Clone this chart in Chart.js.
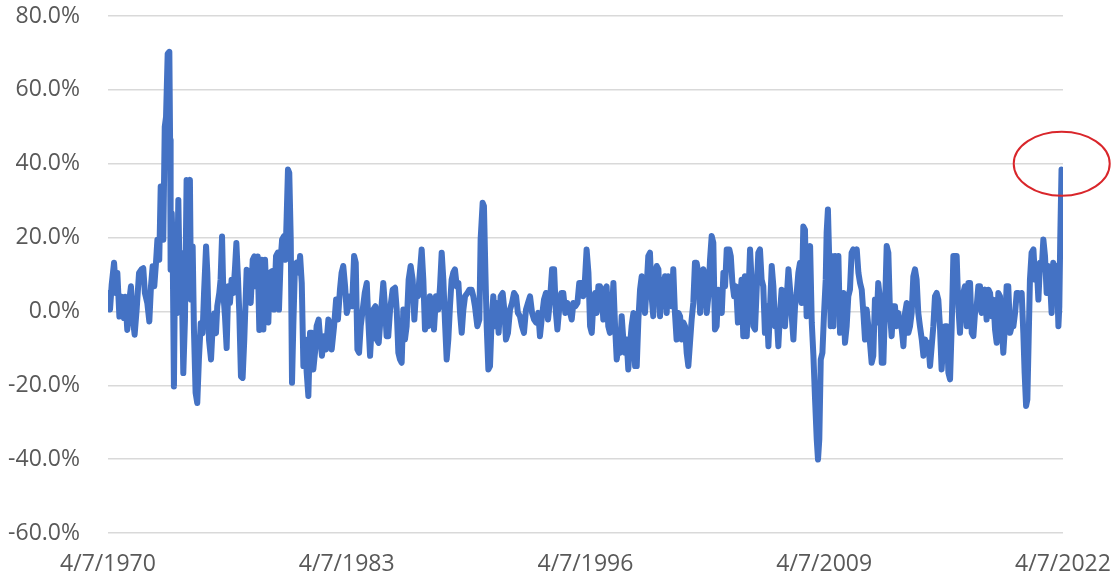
<!DOCTYPE html>
<html>
<head>
<meta charset="utf-8">
<script src="https://cdn.jsdelivr.net/npm/chart.js@4.4.1/dist/chart.umd.min.js"></script>
<style>
  html, body { margin: 0; padding: 0; background: #fff; }
  #wrap { width: 1114px; height: 579px; }
</style>
</head>
<body>
<div id="wrap"><canvas id="myChart" width="1114" height="579"></canvas></div>
<script>
// year-over-year change, [decimal year, % change]
const y1970_78 = [
  [1970.27,5.0],[1970.38,0.5],[1970.47,7.2],[1970.60,13.2],[1970.71,5.0],[1970.78,10.4],[1970.89,-1.4],
  [1971.01,4],[1971.14,-1.8],[1971.21,4],[1971.32,-5],[1971.43,3],[1971.52,6.8],[1971.61,-1.4],[1971.72,-6.3],[1971.83,0.5],[1971.96,10.4],
  [1972.10,11.4],[1972.19,11.7],[1972.28,5],[1972.41,2.3],[1972.52,-2.7],[1972.61,6.8],[1972.70,12.2],[1972.79,6.8],[1972.88,13],[1972.96,19.4],
  [1973.06,14],[1973.14,33.8],[1973.23,32],[1973.28,19.4],[1973.36,50],[1973.43,52.7],[1973.52,69.8],[1973.61,70.3],[1973.65,46.4],[1973.68,11.3],[1973.74,26.6],[1973.79,17.6],[1973.86,-20.3],[1973.94,23],
  [1974.01,-0.5],[1974.10,30.2],[1974.19,3.2],[1974.26,15.8],[1974.37,-16.7],[1974.46,-2.3],[1974.55,35.6],[1974.64,34.7],[1974.73,35.6],[1974.79,3.2],[1974.88,17.6],[1974.95,-5],
  [1975.04,-22],[1975.13,-24.8],[1975.22,-13],[1975.32,-3.2],[1975.42,-5.9],[1975.50,5],[1975.61,17.6],[1975.68,10.4],[1975.77,-7.7],[1975.88,-13],[1975.97,-4],
  [1976.06,-0.5],[1976.15,-5.9],[1976.22,1.4],[1976.33,5],[1976.40,8.6],[1976.48,20.3],[1976.55,5],[1976.64,-1.4],[1976.73,-9.9],[1976.82,6.8],[1976.91,2.3],
  [1977.00,8.6],[1977.09,5],[1977.18,11.3],[1977.26,18.5],[1977.35,8.6],[1977.42,-0.5],[1977.51,-17.6],[1977.60,-18],[1977.69,-7.7],[1977.82,11.3],[1977.91,10.4],
  [1978.04,2.3],[1978.15,14],[1978.24,14.9],[1978.33,6.8],[1978.42,14.9],[1978.51,-5]
];
const y1978_87 = [
  [1978.64,14],[1978.73,-4.9],[1978.82,14],[1978.91,3.2],[1979.00,-3],[1979.09,10.5],[1979.20,10.9],[1979.31,0.5],[1979.42,15],[1979.51,15.9],[1979.58,0.5],[1979.67,14],[1979.75,19.5],[1979.85,20.4],[1979.93,14],
  [1980.00,25.8],[1980.07,38.4],[1980.14,37.5],[1980.22,19.5],[1980.29,-19.3],[1980.36,-4],[1980.45,12.3],[1980.54,13.2],[1980.65,10.5],[1980.73,15],[1980.82,7.7],[1980.91,-14.8],
  [1981.00,-7.6],[1981.09,-16.6],[1981.18,-22.9],[1981.27,-5.8],[1981.36,-5.8],[1981.45,-15.7],[1981.54,-11.2],[1981.63,-4],[1981.74,-2.2],[1981.81,-6.7],[1981.92,-12],
  [1982.03,-6.7],[1982.14,-10.3],[1982.27,-2.2],[1982.36,-4],[1982.45,-10.3],[1982.58,-4],[1982.69,3.2],[1982.79,-2.2],[1982.90,5.9],[1982.99,10.5],
  [1983.08,12.3],[1983.18,6.8],[1983.27,-0.4],[1983.36,1.4],[1983.45,4.1],[1983.56,1.4],[1983.67,15],[1983.76,13.2],[1983.85,-10.3],[1983.94,-11.2],
  [1984.03,-4],[1984.14,0.5],[1984.25,5],[1984.36,7.7],[1984.45,-3],[1984.54,-12],[1984.63,-4],[1984.72,0.5],[1984.83,1.4],[1984.90,-7.6],
  [1985.01,-8.5],[1985.12,-1.3],[1985.26,7.7],[1985.35,1.4],[1985.44,-6.7],[1985.53,-6.7],[1985.63,0.5],[1985.77,5.9],[1985.90,6.4],[1985.99,0.5],
  [1986.08,-11.2],[1986.17,-13],[1986.26,-13.9],[1986.35,0.5],[1986.44,-7.6],[1986.53,-4],[1986.64,8.6],[1986.75,12.3],[1986.86,8.6],[1986.95,-2.2],
  [1987.04,5],[1987.15,4.1]
];
const y1987_96 = [
  [1987.35,16.8],[1987.44,8.6],[1987.53,-4.9],[1987.62,3.2],[1987.71,-4],[1987.80,4.1],[1987.91,2.3],
  [1988.02,-4.9],[1988.13,4.1],[1988.26,0.5],[1988.35,6.8],[1988.44,15.9],[1988.53,8.6],[1988.62,-3],[1988.71,-13],[1988.80,-7.6],[1988.89,1.4],[1988.98,8.6],
  [1989.07,10.5],[1989.16,11.4],[1989.26,6.8],[1989.35,7.7],[1989.44,-0.4],[1989.53,-5.8],[1989.62,0.5],[1989.71,4.1],[1989.84,5],[1989.95,5.9],
  [1990.07,5.9],[1990.16,4.1],[1990.25,1.4],[1990.38,-4],[1990.49,-2.2],[1990.56,19.5],[1990.67,29.4],[1990.74,28.5],[1990.82,10.5],[1990.89,-4],[1990.98,-15.7],
  [1991.07,-14.8],[1991.16,-2.2],[1991.25,4.1],[1991.34,-4],[1991.43,2.3],[1991.54,-5.8],[1991.65,4.1],[1991.76,5],[1991.85,0.5],[1991.94,-7.6],
  [1992.05,-5.8],[1992.16,0.5],[1992.27,2.3],[1992.38,5],[1992.49,4.1],[1992.59,-0.4],[1992.70,-1.3],[1992.81,-4],[1992.92,-5.8],
  [1993.03,0.5],[1993.14,2.3],[1993.25,4.1],[1993.36,-0.4],[1993.47,-2.2],[1993.58,-3],[1993.70,-0.4],[1993.79,-6.7],[1993.90,-1.3],
  [1994.01,3.2],[1994.12,5],[1994.23,-2.2],[1994.34,3.2],[1994.45,11.4],[1994.56,11.4],[1994.66,-0.4],[1994.74,-4.9],[1994.85,1.4],[1994.95,5],
  [1995.06,5],[1995.17,-0.4],[1995.28,2.3],[1995.39,0.5],[1995.52,-2.2],[1995.61,2.3],[1995.72,1.4],[1995.83,2.3],[1995.93,7.7]
];
const y1996_04 = [
  [1996.06,7.7],[1996.15,4.1],[1996.24,8.6],[1996.33,16.8],[1996.43,10.5],[1996.52,-4],[1996.61,-5.8],[1996.70,2.3],[1996.79,5],[1996.88,-0.4],[1996.97,6.8],
  [1997.06,6.8],[1997.15,5],[1997.24,-2.2],[1997.33,5.9],[1997.42,6.8],[1997.51,-4],[1997.60,-5.8],[1997.70,-0.4],[1997.79,7.7],[1997.88,-4],[1997.97,-13],
  [1998.06,-9.4],[1998.15,-11.2],[1998.24,-1.3],[1998.33,-7.6],[1998.42,-11.2],[1998.51,-7.6],[1998.60,-15.7],[1998.69,-9.4],[1998.78,-4],[1998.88,-0.4],[1998.97,-14.8],
  [1999.06,-14.8],[1999.15,-2.2],[1999.24,5.9],[1999.33,9.5],[1999.42,4.1],[1999.51,-0.4],[1999.60,6.8],[1999.69,15],[1999.78,15.9],[1999.87,4.1],[1999.96,-1.3],
  [2000.06,10.5],[2000.15,12.3],[2000.24,11.4],[2000.33,-1.3],[2000.42,8.6],[2000.51,1.4],[2000.60,9.5],[2000.69,-0.4],[2000.78,9.5],[2000.87,6.8],[2000.96,1.4],
  [2001.05,11.4],[2001.14,-0.4],[2001.23,-7.6],[2001.33,-0.4],[2001.42,-1.3],[2001.51,-7.6],[2001.60,-3],[2001.69,-4],[2001.78,-11.2],[2001.87,-14.8],[2001.96,-8.5],
  [2002.05,-2.2],[2002.14,2.3],[2002.23,13.2],[2002.32,13.2],[2002.41,10.5],[2002.51,-0.4],[2002.60,6.8],[2002.69,11.4],[2002.78,9.5],[2002.87,-0.4],[2002.96,4.1],
  [2003.05,14],[2003.14,20.4],[2003.23,18.6],[2003.32,-4.9],[2003.41,-4],[2003.50,5.9],[2003.59,5],[2003.69,-0.4],[2003.78,10.5],[2003.87,6.8],[2003.96,16.8],
  [2004.10,16.8],[2004.18,15],[2004.27,7.7],[2004.36,4.1],[2004.47,6.8],[2004.57,-3]
];
const y2004_13 = [
  [2004.77,8.6],[2004.86,-6.7],[2004.95,9.5],
  [2005.05,-6.7],[2005.14,4.1],[2005.23,16.8],[2005.32,7.7],[2005.41,-4],[2005.50,-4.9],[2005.59,5.9],[2005.68,15.9],[2005.77,16.8],[2005.86,8.6],[2005.95,6.8],
  [2006.04,-5.8],[2006.14,1.4],[2006.23,-9.4],[2006.32,1.4],[2006.41,12.3],[2006.50,6.8],[2006.59,-4],[2006.68,-1.3],[2006.77,-9.4],[2006.86,-0.4],[2006.95,5.9],
  [2007.04,5],[2007.13,-4],[2007.22,3.2],[2007.32,11.4],[2007.41,5.9],[2007.50,-1.3],[2007.59,-7.6],[2007.68,1.4],[2007.77,5],[2007.86,10.5],[2007.95,13.2],
  [2008.04,2.3],[2008.13,23],[2008.22,22.1],[2008.31,-1.3],[2008.40,15.9],[2008.50,17.7],[2008.59,-3],[2008.68,-12],[2008.77,-23.8],[2008.86,-34.6],[2008.93,-40.1],
  [2009.00,-34.6],[2009.08,-13],[2009.17,-11.2],[2009.26,-0.4],[2009.35,8.6],[2009.40,21.3],[2009.47,27.6],[2009.55,12.3],[2009.62,-4],[2009.69,15],[2009.77,-4],[2009.86,15],[2009.95,5],
  [2010.04,15],[2010.13,-5.8],[2010.22,-2.2],[2010.31,5],[2010.40,-8.5],[2010.49,-4],[2010.58,4.1],[2010.67,5.9],[2010.76,15.9],[2010.85,16.8],[2010.94,15.9],
  [2011.04,16.8],[2011.13,10.5],[2011.22,7.7],[2011.31,5.9],[2011.40,-0.4],[2011.49,-7.6],[2011.58,0.5],[2011.67,-4],[2011.76,-8.5],[2011.85,-13.9],[2011.94,-12],
  [2012.03,3.2],[2012.12,-3],[2012.21,7.7],[2012.31,3.2],[2012.40,-13.9],[2012.49,-13.9],[2012.58,1.4],[2012.67,17.7],[2012.76,15.9],[2012.85,-0.4],[2012.94,-6.7],
  [2013.03,1.4],[2013.12,1.4],[2013.21,-4],[2013.30,-0.4]
];
const y2013_22 = [
  [2013.49,-4.9],[2013.58,-9.4],[2013.67,-0.4],[2013.76,2.3],[2013.85,-5.8],[2013.94,-4],
  [2014.03,-0.4],[2014.12,9.5],[2014.21,11.4],[2014.30,8.6],[2014.39,-0.4],[2014.48,-4],[2014.58,-7.6],[2014.67,-12],[2014.76,-7.6],[2014.85,-11.2],[2014.94,-8.5],
  [2015.03,-14.8],[2015.12,-9.4],[2015.21,-4],[2015.30,4.1],[2015.39,5],[2015.48,3.2],[2015.57,-4],[2015.66,-15.7],[2015.75,-8.5],[2015.85,-4],[2015.94,-4],
  [2016.03,-16.6],[2016.12,-18.4],[2016.21,-4],[2016.30,15],[2016.39,15],[2016.48,15],[2016.57,1.4],[2016.66,-5.8],[2016.75,2.3],[2016.84,5],[2016.93,6.8],
  [2017.03,-4],[2017.12,7.7],[2017.21,7.7],[2017.30,-5.8],[2017.39,-6.7],[2017.48,-0.4],[2017.57,1.4],[2017.66,6.8],[2017.75,6.8],[2017.84,-0.4],[2017.93,5],
  [2018.02,5.9],[2018.11,-2.2],[2018.21,5.9],[2018.30,5],[2018.39,-1.3],[2018.48,3.2],[2018.57,-4.9],[2018.66,-8.5],[2018.75,5],[2018.84,4.1],[2018.93,-4],
  [2019.02,-11.2],[2019.11,-4],[2019.20,6.8],[2019.29,6.8],[2019.39,-5.8],[2019.48,-4],[2019.57,-4],[2019.66,-0.4],[2019.75,5],[2019.84,5],[2019.93,3.2],
  [2020.02,5],[2020.11,-5.8],[2020.18,-16.6],[2020.26,-25.6],[2020.33,-23.8],[2020.40,-7.6],[2020.47,8.6],[2020.56,15.9],[2020.66,16.8],[2020.75,8.6],[2020.84,12.3],[2020.93,3.2],
  [2021.02,13.2],[2021.11,11.4],[2021.20,19.5],[2021.29,15],[2021.38,5],[2021.47,12.3],[2021.56,8.6],[2021.65,-0.4],[2021.74,13.2],[2021.83,10.5],[2021.93,12.3],
  [2022.02,-4],[2022.07,1.4],[2022.12,19.5],[2022.19,38.4],[2022.23,37.5],[2022.27,24]
];

const xTickYears = [1970.27, 1983.27, 1996.27, 2009.27, 2022.27];
const xTickLabels = ['4/7/1970', '4/7/1983', '4/7/1996', '4/7/2009', '4/7/2022'];
const yTicks = [-60, -40, -20, 0, 20, 40, 60, 80];

// red circle around the latest spike (center in data units)
const highlight = { x: 2022.2, y: 40, rx: 48, ry: 32 };

const allPoints = [].concat(y1970_78, y1978_87, y1987_96, y1996_04, y2004_13, y2013_22)
  .map(p => ({ x: p[0], y: p[1] }));

const ellipsePlugin = {
  id: 'ellipse',
  afterDraw(chart) {
    const ctx = chart.ctx;
    const cx = chart.scales.x.getPixelForValue(highlight.x);
    const cy = chart.scales.y.getPixelForValue(highlight.y);
    ctx.save();
    ctx.beginPath();
    ctx.ellipse(cx, cy, highlight.rx, highlight.ry, 0, 0, Math.PI * 2);
    ctx.strokeStyle = '#d9262b';
    ctx.lineWidth = 2;
    ctx.stroke();
    ctx.restore();
  }
};

const ctx = document.getElementById('myChart').getContext('2d');
const chart = new Chart(ctx, {
  type: 'line',
  data: {
    datasets: [{
      data: allPoints,
      borderColor: '#4472c4',
      borderWidth: 6,
      pointRadius: 0,
      tension: 0,
      borderJoinStyle: 'round',
      borderCapStyle: 'round',
      fill: false
    }]
  },
  options: {
    responsive: false,
    animation: false,
    layout: { padding: { top: 16, right: 51, left: 0, bottom: 0 } },
    plugins: {
      legend: { display: false },
      tooltip: { enabled: false }
    },
    scales: {
      x: {
        type: 'linear',
        min: xTickYears[0],
        max: xTickYears[xTickYears.length - 1],
        afterBuildTicks: scale => {
          scale.ticks = xTickYears.map(v => ({ value: v }));
        },
        afterFit: scale => {
          scale.height = 46;
          scale.paddingLeft = 0;
          scale.paddingRight = 0;
        },
        grid: { display: false, drawTicks: false },
        border: { display: false },
        ticks: {
          autoSkip: false,
          maxRotation: 0,
          padding: 18,
          color: '#595959',
          font: { family: 'Open Sans', size: 23 },
          callback: (v, i) => xTickLabels[i]
        }
      },
      y: {
        min: yTicks[0],
        max: yTicks[yTicks.length - 1],
        afterBuildTicks: scale => {
          scale.ticks = yTicks.map(v => ({ value: v }));
        },
        afterFit: scale => {
          scale.width = 108;
          scale.paddingTop = 0;
          scale.paddingBottom = 0;
        },
        grid: { color: '#d9d9d9', lineWidth: 1.5, drawTicks: false },
        border: { display: false },
        ticks: {
          padding: 28,
          color: '#595959',
          font: { family: 'Open Sans', size: 23 },
          callback: v => v.toFixed(1) + '%'
        }
      }
    }
  },
  plugins: [ellipsePlugin]
});
</script>
</body>
</html>
